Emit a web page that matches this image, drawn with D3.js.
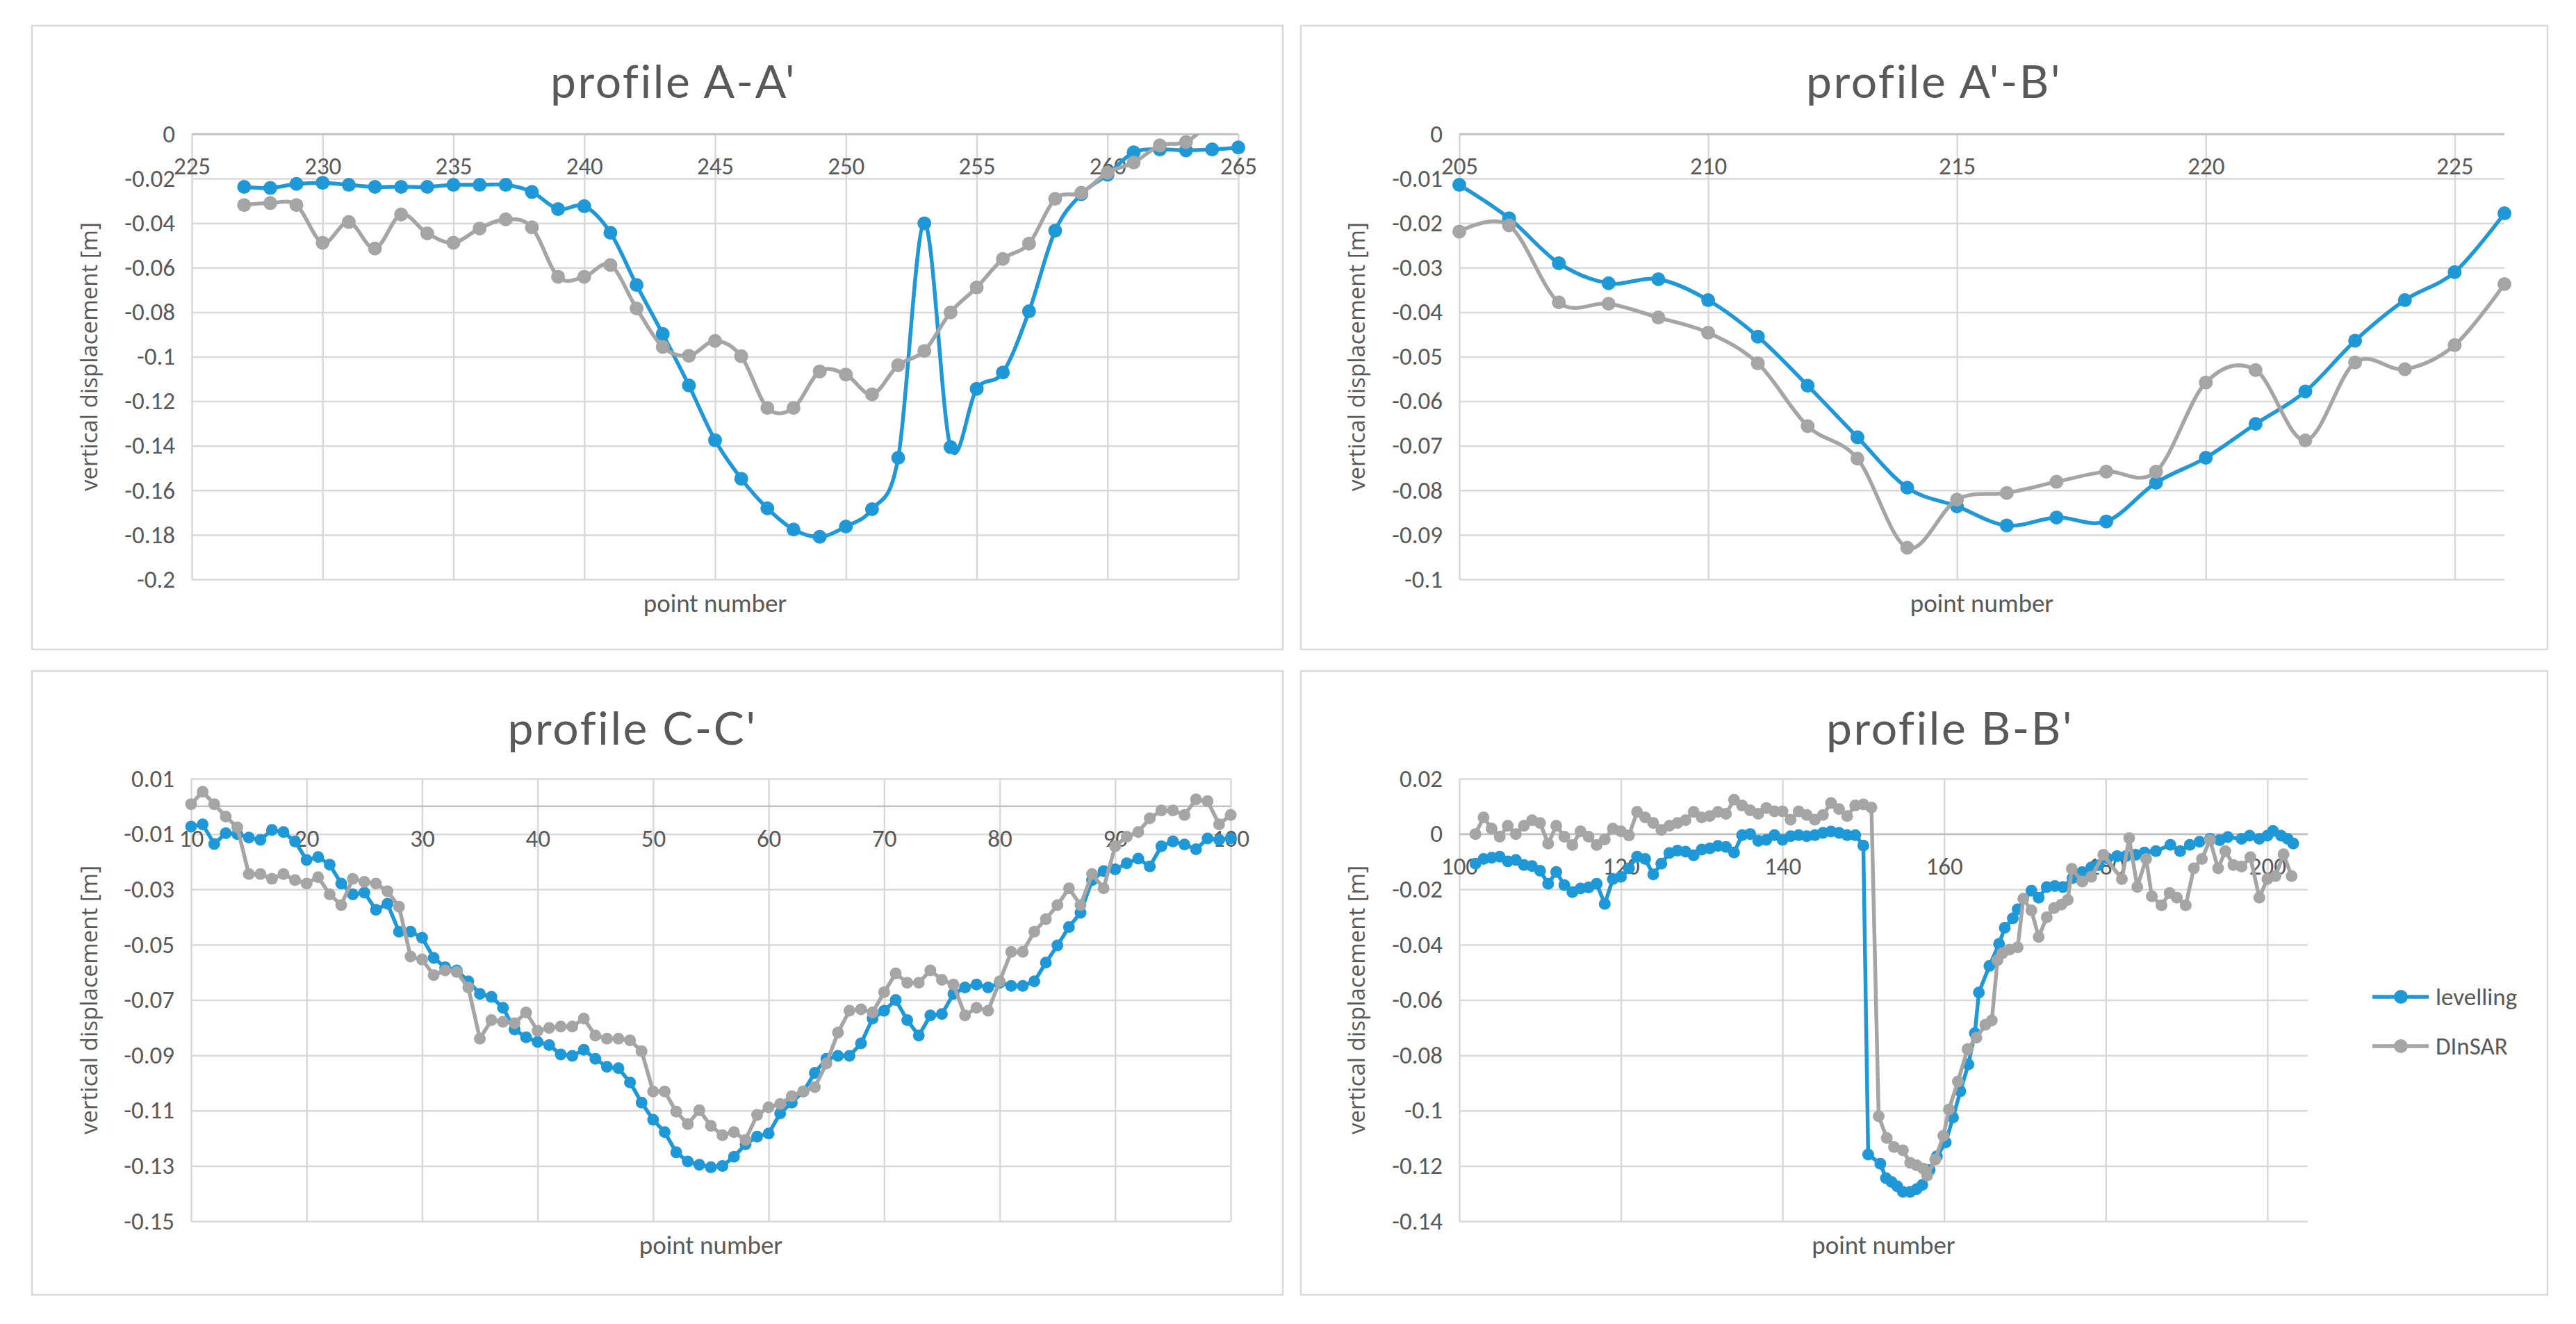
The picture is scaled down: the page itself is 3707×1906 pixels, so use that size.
<!DOCTYPE html>
<html><head><meta charset="utf-8">
<script src="https://cdn.jsdelivr.net/npm/d3@7/dist/d3.min.js"></script>
<style>body{margin:0;background:#fff}</style>
</head><body><svg id="c" width="3707" height="1906"></svg>
<script>
// ---------- DATA ----------
const seriesNames = ["levelling", "DInSAR"];

// profile A-A'
const aaPoints = [227,228,229,230,231,232,233,234,235,236,237,238,239,240,241,242,243,244,245,246,247,248,249,250,251,252,253,254,255,256,257,258,259,260,261,262,263,264,265];
const aaLevelling = [-0.0237,-0.0242,-0.0224,-0.0219,-0.0228,-0.0237,-0.0237,-0.0237,-0.0228,-0.0228,-0.0228,-0.026,-0.0337,-0.0324,-0.0443,-0.0678,-0.0898,-0.1129,-0.1375,-0.1548,-0.1681,-0.1776,-0.1809,-0.1763,-0.1685,-0.1454,-0.0401,-0.1406,-0.1144,-0.1071,-0.0796,-0.0434,-0.027,-0.0182,-0.0082,-0.0069,-0.0073,-0.0069,-0.006];
const aaDInSAR = [-0.0319,-0.031,-0.0319,-0.0488,-0.0395,-0.0514,-0.0361,-0.0446,-0.0488,-0.0424,-0.0383,-0.0419,-0.0641,-0.0641,-0.0588,-0.0783,-0.0956,-0.0996,-0.0929,-0.0998,-0.123,-0.123,-0.1066,-0.108,-0.1169,-0.1038,-0.0974,-0.0801,-0.0689,-0.0561,-0.0492,-0.0291,-0.0264,-0.0173,-0.0128,-0.0051,-0.0036,0.005,0.004];
const aaXTicks = [225,230,235,240,245,250,255,260,265];
const aaYTicks = [0,-0.02,-0.04,-0.06,-0.08,-0.1,-0.12,-0.14,-0.16,-0.18,-0.2];

// profile A'-B'
const abPoints = [205,206,207,208,209,210,211,212,213,214,215,216,217,218,219,220,221,222,223,224,225,226];
const abLevelling = [-0.0114,-0.0189,-0.029,-0.0335,-0.0326,-0.0373,-0.0455,-0.0565,-0.0681,-0.0794,-0.0836,-0.0879,-0.0861,-0.087,-0.0783,-0.0727,-0.0651,-0.0578,-0.0464,-0.0373,-0.031,-0.0178];
const abDInSAR = [-0.0219,-0.0205,-0.0378,-0.0381,-0.0412,-0.0446,-0.0515,-0.0656,-0.0729,-0.0929,-0.0821,-0.0806,-0.0781,-0.0758,-0.0758,-0.0558,-0.053,-0.0688,-0.0513,-0.0528,-0.0474,-0.0337];
const abXTicks = [205,210,215,220,225];
const abYTicks = [0,-0.01,-0.02,-0.03,-0.04,-0.05,-0.06,-0.07,-0.08,-0.09,-0.1];

// profile C-C'
const ccPoints = [10,11,12,13,14,15,16,17,18,19,20,21,22,23,24,25,26,27,28,29,30,31,32,33,34,35,36,37,38,39,40,41,42,43,44,45,46,47,48,49,50,51,52,53,54,55,56,57,58,59,60,61,62,63,64,65,66,67,68,69,70,71,72,73,74,75,76,77,78,79,80,81,82,83,84,85,86,87,88,89,90,91,92,93,94,95,96,97,98,99,100];
const ccLevelling = [-0.0073,-0.0065,-0.0136,-0.0097,-0.0100,-0.0113,-0.0121,-0.0085,-0.0093,-0.0127,
 -0.0194,-0.0183,-0.0211,-0.0279,-0.0318,-0.0312,-0.0374,-0.0352,-0.0453,-0.0453,
 -0.0475,-0.0548,-0.0582,-0.0593,-0.0633,-0.0678,-0.0689,-0.0728,-0.0807,-0.0835,
 -0.0852,-0.0863,-0.0897,-0.0902,-0.0880,-0.0913,-0.0942,-0.0947,-0.0998,-0.1071,
 -0.1133,-0.1178,-0.1251,-0.1284,-0.1296,-0.1305,-0.1300,-0.1267,-0.1222,-0.1194,
 -0.1183,-0.1110,-0.1071,-0.1031,-0.0964,-0.0913,-0.0902,-0.0902,-0.0857,-0.0767,
 -0.0739,-0.0700,-0.0773,-0.0829,-0.0756,-0.0751,-0.0678,-0.0655,-0.0644,-0.0655,
 -0.0638,-0.0649,-0.0649,-0.0633,-0.0565,-0.0503,-0.0436,-0.0385,-0.0267,-0.0234,
 -0.0228,-0.0206,-0.0189,-0.0217,-0.0144,-0.0127,-0.0138,-0.0155,-0.0116,-0.0121,-0.0116];
const ccDInSAR = [0.0008,0.0053,0.0008,-0.0037,-0.0076,-0.0245,-0.0245,-0.0262,-0.0245,-0.0267,
 -0.0279,-0.0256,-0.0318,-0.0357,-0.0262,-0.0273,-0.0279,-0.0307,-0.0363,-0.0543,
 -0.0554,-0.0610,-0.0593,-0.0599,-0.0655,-0.0840,-0.0773,-0.0779,-0.0784,-0.0745,
 -0.0812,-0.0801,-0.0796,-0.0796,-0.0767,-0.0829,-0.0840,-0.0840,-0.0846,-0.0885,
 -0.1031,-0.1031,-0.1104,-0.1149,-0.1099,-0.1155,-0.1189,-0.1178,-0.1206,-0.1116,
 -0.1088,-0.1076,-0.1048,-0.1031,-0.1015,-0.0930,-0.0818,-0.0739,-0.0734,-0.0745,
 -0.0672,-0.0604,-0.0638,-0.0638,-0.0593,-0.0627,-0.0644,-0.0756,-0.0728,-0.0739,
 -0.0633,-0.0526,-0.0526,-0.0453,-0.0408,-0.0357,-0.0296,-0.0357,-0.0245,-0.0296,
 -0.0144,-0.0110,-0.0093,-0.0043,-0.0015,-0.0015,-0.0031,0.0025,0.0019,-0.0065,-0.0031];
const ccXTicks = [10,20,30,40,50,60,70,80,90,100];
const ccYTicks = [0.01,-0.01,-0.03,-0.05,-0.07,-0.09,-0.11,-0.13,-0.15];

// profile B-B'
const bbLevPoints = [102,103,104,105,106,107,108,109,110,111,112,113,114,115,116,117,118,119,120,121,122,123,124,125,126,127,128,129,130,131,132,133,134,135,136,137,138,139,140,141,142,143,144,145,146,147,148,149,150,
 150.6,152.1,152.8,153.5,154.2,154.9,155.8,156.6,157.3,158.2,159.1,160.2,161.1,162.0,163.0,163.8,164.3,165.6,166.8,167.5,168.5,169.1,170.8,171.7,172.7,173.7,174.7,175.9,177.1,178.2,179.1,180.2,181.4,182.5,183.7,184.8,186.2,188.0,189.2,190.4,191.6,192.9,194.1,195.1,196.8,197.8,199.0,200.0,200.7,201.7,202.5,203.2];
const bbLevelling = [-0.0107,-0.0090,-0.0086,-0.0082,-0.0099,-0.0094,-0.0112,-0.0116,-0.0133,-0.0180,-0.0137,-0.0185,-0.0210,-0.0197,-0.0193,-0.0180,-0.0253,-0.0163,-0.0155,-0.0124,-0.0082,-0.0090,-0.0146,-0.0107,-0.0069,-0.0060,-0.0064,-0.0077,-0.0056,-0.0052,-0.0043,-0.0047,-0.0067,-0.0004,0.0000,-0.0025,-0.0021,-0.0004,-0.0021,-0.0008,-0.0004,-0.0008,-0.0004,0.0004,0.0009,0.0004,-0.0004,-0.0004,-0.0042,
 -0.1159,-0.1192,-0.1244,-0.1258,-0.1274,-0.1294,-0.1294,-0.1284,-0.1269,-0.1215,-0.1165,-0.1115,-0.1025,-0.0930,-0.0833,-0.0720,-0.0573,-0.0477,-0.0397,-0.0339,-0.0305,-0.0272,-0.0205,-0.0230,-0.0192,-0.0188,-0.0192,-0.0159,-0.0138,-0.0121,-0.0113,-0.0088,-0.0080,-0.0080,-0.0075,-0.0067,-0.0062,-0.0039,-0.0062,-0.0039,-0.0028,-0.0017,-0.0022,-0.0011,-0.0017,-0.0006,-0.0017,-0.0006,0.0011,-0.0006,-0.0017,-0.0034];
const bbDinPoints = [102,103,104,105,106,107,108,109,110,111,112,113,114,115,116,117,118,119,120,121,122,123,124,125,126,127,128,129,130,131,132,133,134,135,136,137,138,139,140,141,142,143,144,145,146,147,148,149,150,151,
 151.9,152.9,153.8,154.9,155.8,156.6,157.4,157.9,158.9,159.9,160.6,161.7,162.9,164.0,165.1,165.9,166.6,167.2,168.1,169.1,169.8,170.8,171.7,172.7,173.6,174.5,175.3,175.8,177.1,178.2,179.7,182.0,182.9,183.9,185.0,185.7,186.9,187.9,188.8,189.9,190.9,191.9,192.9,193.9,194.8,195.8,196.8,197.9,199.0,200.0,201.0,202.0,203.0];
const bbDInSAR = [0.0000,0.0060,0.0020,-0.0010,0.0030,0.0000,0.0030,0.0050,0.0040,-0.0035,0.0030,-0.0010,-0.0040,0.0010,-0.0010,-0.0040,-0.0020,0.0020,0.0010,-0.0005,0.0080,0.0060,0.0040,0.0015,0.0030,0.0040,0.0050,0.0080,0.0060,0.0065,0.0080,0.0073,0.0124,0.0103,0.0086,0.0073,0.0094,0.0082,0.0082,0.0052,0.0082,0.0069,0.0052,0.0069,0.0112,0.0090,0.0065,0.0103,0.0107,0.0096,
 -0.1021,-0.1099,-0.1132,-0.1144,-0.1189,-0.1198,-0.1210,-0.1235,-0.1177,-0.1091,-0.0996,-0.0895,-0.0778,-0.0736,-0.0690,-0.0674,-0.0456,-0.0431,-0.0418,-0.0410,-0.0234,-0.0276,-0.0372,-0.0301,-0.0268,-0.0255,-0.0238,-0.0126,-0.0172,-0.0155,-0.0075,-0.0163,-0.0015,-0.0191,-0.0090,-0.0225,-0.0258,-0.0213,-0.0230,-0.0258,-0.0124,-0.0090,-0.0022,-0.0124,-0.0062,-0.0112,-0.0118,-0.0084,-0.0230,-0.0163,-0.0152,-0.0073,-0.0152];
const bbXTicks = [100,120,140,160,180,200];
const bbYTicks = [0.02,0,-0.02,-0.04,-0.06,-0.08,-0.1,-0.12,-0.14];

// ---------- STYLE ----------
const BLUE = "#1f98d8", GREY = "#a5a5a5";
const TXT = "#595959", GRID = "#d9d9d9";
const LBL_FONT = "Carlito, Calibri, Lato, sans-serif";

const panels = [
  {title:"profile A-A'", titleX:969, titleY:141, box:[46,37,1800,898], plot:[276,193,1506,641],
   xDomain:[225,265], yDomain:[-0.2,0], xTicks:aaXTicks, yTicks:aaYTicks, yTitleX:128,
   lev:[aaPoints,aaLevelling], din:[aaPoints,aaDInSAR], smooth:true, r:10},
  {title:"profile A'-B'", titleX:2783, titleY:141, box:[1872,37,1794,898], plot:[2100,193,1504,641],
   xDomain:[205,226], yDomain:[-0.1,0], xTicks:abXTicks, yTicks:abYTicks, yTitleX:1952,
   lev:[abPoints,abLevelling], din:[abPoints,abDInSAR], smooth:true, r:10},
  {title:"profile C-C'", titleX:910, titleY:1072, box:[46,966,1800,898], plot:[275,1121,1496,637],
   xDomain:[10,100], yDomain:[-0.15,0.01], xTicks:ccXTicks, yTicks:ccYTicks, yTitleX:128,
   lev:[ccPoints,ccLevelling], din:[ccPoints,ccDInSAR], smooth:false, r:8.5},
  {title:"profile B-B'", titleX:2806, titleY:1072, box:[1872,966,1794,898], plot:[2100,1121,1221,637],
   xDomain:[100,205], yDomain:[-0.14,0.02], xTicks:bbXTicks, yTicks:bbYTicks, yTitleX:1952,
   lev:[bbLevPoints,bbLevelling], din:[bbDinPoints,bbDInSAR], smooth:false, r:8.5, legend:true}
];

const svg = d3.select("#c");
svg.append("rect").attr("width",3707).attr("height",1906).attr("fill","#fff");

function fmt(v){ const s = String(parseFloat(v.toFixed(3))); return (s==="-0")?"0":s; }

panels.forEach((p,i)=>{
  const g = svg.append("g");
  g.append("rect").attr("x",p.box[0]).attr("y",p.box[1]).attr("width",p.box[2]).attr("height",p.box[3])
    .attr("fill","#fff").attr("stroke",GRID).attr("stroke-width",2.5);
  const [px,py,pw,ph] = p.plot;
  const x = d3.scaleLinear().domain(p.xDomain).range([px,px+pw]);
  const y = d3.scaleLinear().domain(p.yDomain).range([py+ph,py]);

  // horizontal gridlines + y labels
  const ya = g.append("g").attr("transform",`translate(${px},0)`)
    .call(d3.axisLeft(y).tickValues(p.yTicks).tickSize(-pw).tickPadding(24).tickFormat(fmt));
  ya.select(".domain").remove();
  ya.selectAll(".tick line").attr("stroke",GRID).attr("stroke-width",2.5);
  ya.selectAll(".tick text").attr("font-family",LBL_FONT).attr("font-size",35).attr("fill",TXT);

  // vertical gridlines
  const xg = g.append("g").attr("transform",`translate(0,${py})`)
    .call(d3.axisBottom(x).tickValues(p.xTicks).tickSize(ph).tickFormat(""));
  xg.select(".domain").remove();
  xg.selectAll(".tick line").attr("stroke",GRID).attr("stroke-width",2.5);

  // zero axis line
  g.append("line").attr("x1",px).attr("x2",px+pw).attr("y1",y(0)).attr("y2",y(0))
    .attr("stroke","#bfbfbf").attr("stroke-width",2.5);

  // x labels under the zero axis
  const xl = g.append("g").attr("transform",`translate(0,${y(0)})`)
    .call(d3.axisBottom(x).tickValues(p.xTicks).tickSize(0).tickFormat(d3.format("d")));
  xl.select(".domain").remove();
  xl.selectAll(".tick text").attr("y",46).attr("dy","0.35em")
    .attr("font-family",LBL_FONT).attr("font-size",35).attr("fill",TXT);

  // clip
  const cid = "clip"+i;
  svg.append("clipPath").attr("id",cid).append("rect").attr("x",px-14).attr("y",py).attr("width",pw+28).attr("height",ph);

  const line = d3.line().x(d=>x(d[0])).y(d=>y(d[1]))
    .curve(p.smooth ? d3.curveCatmullRom.alpha(0) : d3.curveLinear);
  const sg = g.append("g").attr("clip-path",`url(#${cid})`);
  [[p.lev,BLUE],[p.din,GREY]].forEach(([s,col])=>{
    const pts = s[0].map((xx,k)=>[xx,s[1][k]]);
    sg.append("path").datum(pts).attr("d",line).attr("fill","none")
      .attr("stroke",col).attr("stroke-width",5.5).attr("stroke-linejoin","round");
    sg.selectAll(null).data(pts.filter(d=>d[1]<=p.yDomain[1] && d[1]>=p.yDomain[0])).enter().append("circle")
      .attr("cx",d=>x(d[0])).attr("cy",d=>y(d[1])).attr("r",p.r).attr("fill",col);
  });

  // titles
  g.append("text").attr("x",p.titleX).attr("y",p.titleY).attr("text-anchor","middle")
    .attr("font-family","Lato, sans-serif").attr("font-weight",400).attr("font-size",66)
    .attr("letter-spacing",2.5).attr("fill",TXT).text(p.title);
  g.append("text").attr("transform",`translate(${p.yTitleX},${py+ph/2}) rotate(-90)`)
    .attr("text-anchor","middle").attr("dy","0.35em")
    .attr("font-family","'Open Sans', sans-serif").attr("font-size",33).attr("fill",TXT)
    .text("vertical displacement [m]");
  g.append("text").attr("x",px+pw/2).attr("y",py+ph+34).attr("text-anchor","middle").attr("dy","0.35em")
    .attr("font-family",LBL_FONT).attr("font-size",37).attr("fill",TXT).text("point number");

  if(p.legend){
    const lg = g.append("g");
    seriesNames.forEach((nm,k)=>{
      const col = k===0?BLUE:GREY;
      const ly = 1435 + k*71;
      lg.append("line").attr("x1",3414).attr("x2",3495).attr("y1",ly).attr("y2",ly).attr("stroke",col).attr("stroke-width",5.5);
      lg.append("circle").attr("cx",3455).attr("cy",ly).attr("r",10).attr("fill",col);
      lg.append("text").attr("x",3505).attr("y",ly).attr("dy","0.35em")
        .attr("font-family",LBL_FONT).attr("font-size",35).attr("fill",TXT).text(nm);
    });
  }
});
</script>
</body></html>
